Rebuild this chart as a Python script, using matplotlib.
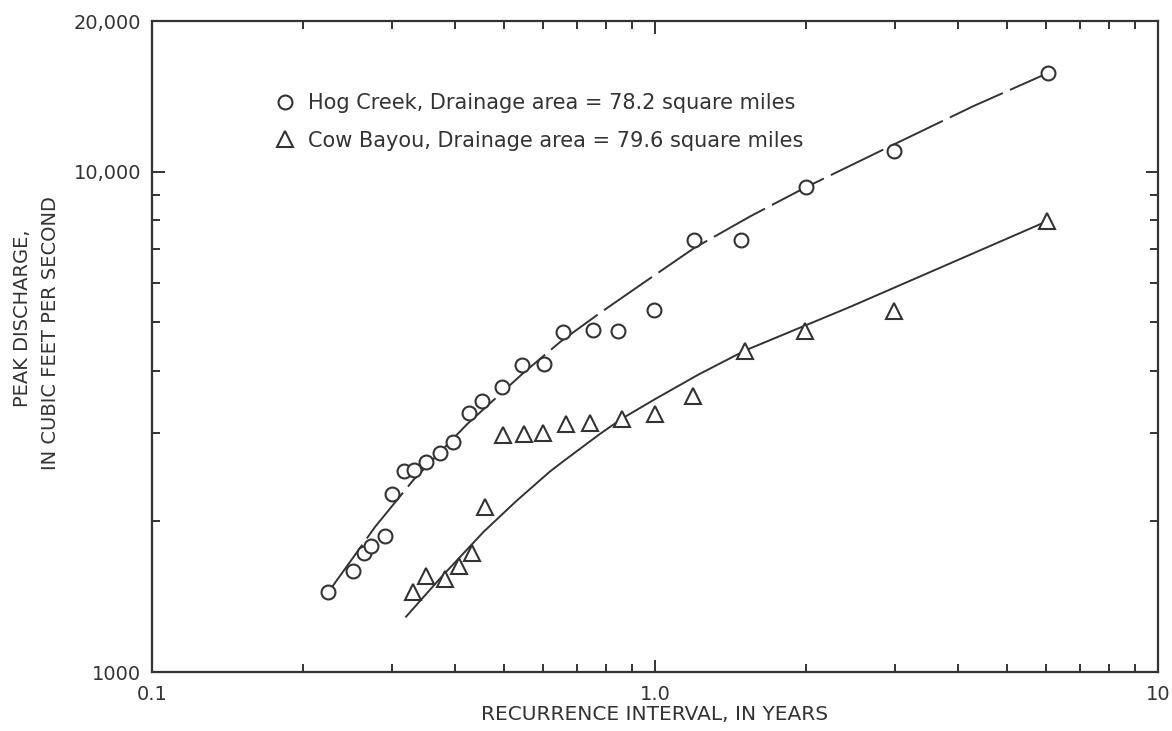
import matplotlib
matplotlib.use("Agg")
import matplotlib.pyplot as plt
from matplotlib.lines import Line2D
from matplotlib.ticker import FixedLocator, FixedFormatter, NullFormatter

# Observed peaks, Hog Creek (circles)
hog_x = [0.224, 0.251, 0.264, 0.273, 0.290, 0.300, 0.317, 0.332, 0.351, 0.374,
         0.396, 0.427, 0.454, 0.496, 0.545, 0.603, 0.657, 0.754, 0.846, 0.997,
         1.195, 1.48, 1.994, 2.98, 6.05]
hog_y = [1443, 1592, 1727, 1789, 1874, 2270, 2523, 2535, 2626, 2735,
         2878, 3290, 3488, 3710, 4111, 4130, 4771, 4831, 4808, 5297,
         7311, 7311, 9304, 10980, 15750]

# Observed peaks, Cow Bayou (triangles)
cow_x = [0.331, 0.351, 0.382, 0.408, 0.433, 0.459, 0.499, 0.549, 0.600, 0.665,
         0.743, 0.859, 1.0, 1.19, 1.51, 1.99, 2.98, 6.01]
cow_y = [1447, 1556, 1532, 1630, 1732, 2134, 2980, 2985, 2999, 3133,
         3142, 3202, 3281, 3553, 4372, 4794, 5256, 7956]

# Frequency curves
hog_curve_x = [0.224, 0.229, 0.278, 0.331, 0.422, 0.547, 0.65, 0.777, 0.95, 1.195,
               1.55, 1.994, 2.98, 4.29, 6.05]
hog_curve_y = [1445, 1488, 1953, 2421, 3120, 3957, 4580, 5217, 6000, 7030,
               8150, 9304, 11324, 13510, 15750]
cow_curve_x = [0.320, 0.374, 0.456, 0.531, 0.618, 0.668, 0.777, 0.86, 1.0, 1.22,
               1.51, 2.44, 6.01]
cow_curve_y = [1290, 1539, 1905, 2200, 2515, 2670, 2990, 3210, 3510, 3930,
               4390, 5364, 7956]

hog_label = "Hog Creek, Drainage area = 78.2 square miles"
cow_label = "Cow Bayou, Drainage area = 79.6 square miles"

ink = "#333333"
plt.rcParams['font.family'] = ['DejaVu Sans']

fig = plt.figure(figsize=(11.72, 7.31), dpi=100)
ax = fig.add_axes([152 / 1172, 59 / 731, 1006 / 1172, 651 / 731])
ax.set_xscale("log")
ax.set_yscale("log")
ax.set_xlim(0.1, 10)
ax.set_ylim(1000, 20000)

# curves
ax.plot(hog_curve_x, hog_curve_y, color=ink, lw=1.4, ls=(0, (30, 4)), zorder=2)
ax.plot(cow_curve_x, cow_curve_y, color=ink, lw=1.4, zorder=2)

# points
ax.plot(hog_x, hog_y, ls="none", marker="o", ms=10, mfc="white", mec=ink, mew=1.5, zorder=3)
ax.plot(cow_x, cow_y, ls="none", marker="^", ms=11, mfc="white", mec=ink, mew=1.5, zorder=3)

# axes frame and ticks
for sp in ax.spines.values():
    sp.set_color(ink)
    sp.set_linewidth(1.6)

ax.xaxis.set_major_locator(FixedLocator([0.1, 1.0, 10]))
ax.xaxis.set_major_formatter(FixedFormatter(["0.1", "1.0", "10"]))
ax.xaxis.set_minor_locator(FixedLocator([m * d for d in (0.1, 1.0) for m in range(2, 10)]))
ax.xaxis.set_minor_formatter(NullFormatter())
ax.yaxis.set_major_locator(FixedLocator([1000, 10000, 20000]))
ax.yaxis.set_major_formatter(FixedFormatter(["1000", "10,000", "20,000"]))
ax.yaxis.set_minor_locator(FixedLocator([m * 1000 for m in range(2, 10)]))
ax.yaxis.set_minor_formatter(NullFormatter())

ax.tick_params(which="both", direction="in", top=True, right=True, color=ink, width=1.4)
ax.tick_params(which="major", length=9)
ax.tick_params(which="minor", length=6)
ax.tick_params(axis="x", which="major", pad=9, labelsize=14, labelcolor=ink)
ax.tick_params(axis="y", which="major", pad=8, labelsize=14, labelcolor=ink)

ax.set_xlabel("RECURRENCE INTERVAL, IN YEARS", fontsize=14.5, color=ink, labelpad=1)
fig.text(22 / 1172, 1 - 318 / 731, "PEAK DISCHARGE,", rotation=90, fontsize=14,
         color=ink, ha="center", va="center")
fig.text(51 / 1172, 1 - 333 / 731, "IN CUBIC FEET PER SECOND", rotation=90, fontsize=14,
         color=ink, ha="center", va="center")

handles = [
    Line2D([], [], ls="none", marker="o", ms=10, mfc="white", mec=ink, mew=1.5),
    Line2D([], [], ls="none", marker="^", ms=11, mfc="white", mec=ink, mew=1.5),
]
leg = ax.legend(handles, [hog_label, cow_label], loc="upper left",
                bbox_to_anchor=((275 - 152) / 1006, (672 - 93) / 651),
                frameon=False, fontsize=15, handlelength=1.0, handletextpad=0.6,
                labelspacing=0.85, borderaxespad=0, borderpad=0)
for t in leg.get_texts():
    t.set_color(ink)

fig.savefig("out.png", dpi=100, facecolor="white")
